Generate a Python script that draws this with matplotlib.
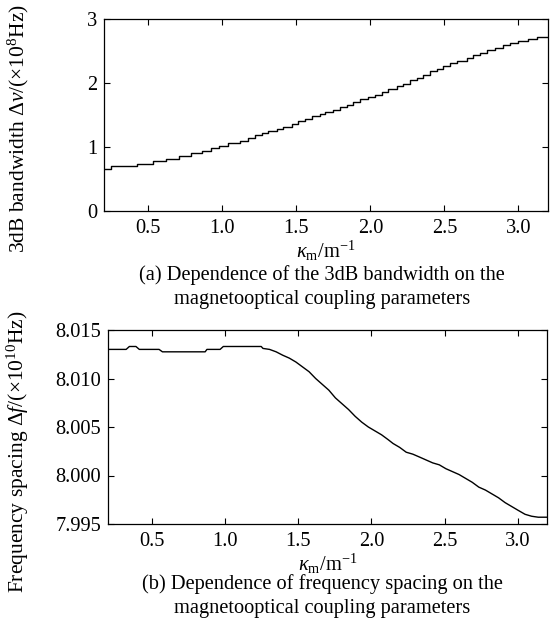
import matplotlib
matplotlib.use("Agg")
import matplotlib.pyplot as plt
from matplotlib.ticker import FormatStrFormatter

plt.rcParams['font.family'] = ['Liberation Serif', 'DejaVu Serif']
plt.rcParams['mathtext.fontset'] = 'custom'
plt.rcParams['mathtext.rm'] = 'Liberation Serif'
plt.rcParams['mathtext.it'] = 'Liberation Serif:italic'
plt.rcParams['mathtext.bf'] = 'Liberation Serif:bold'

# (a) 3dB bandwidth vs kappa_m
k_a = [0.20, 0.25, 0.42, 0.53, 0.62, 0.71, 0.79, 0.86, 0.92, 0.98,
       1.04, 1.12, 1.175, 1.22, 1.265, 1.31, 1.367, 1.412, 1.468, 1.513,
       1.558, 1.603, 1.66, 1.693, 1.75, 1.795, 1.84, 1.885, 1.93, 1.986,
       2.031, 2.076, 2.121, 2.177, 2.222, 2.267, 2.312, 2.357, 2.402, 2.447,
       2.492, 2.537, 2.582, 2.65, 2.695, 2.74, 2.785, 2.842, 2.898, 2.943,
       3.0, 3.067, 3.124, 3.2]
bw_a = [0.65, 0.70, 0.74, 0.78, 0.82, 0.86, 0.90, 0.94, 0.98, 1.02,
        1.06, 1.10, 1.14, 1.18, 1.22, 1.25, 1.28, 1.32, 1.36, 1.40,
        1.44, 1.48, 1.51, 1.55, 1.58, 1.63, 1.66, 1.71, 1.75, 1.78,
        1.82, 1.86, 1.90, 1.95, 1.99, 2.05, 2.08, 2.13, 2.18, 2.22,
        2.26, 2.31, 2.35, 2.39, 2.43, 2.47, 2.51, 2.55, 2.59, 2.63,
        2.65, 2.68, 2.72, 2.72]

# (b) frequency spacing vs kappa_m
k_b = [0.20, 0.324, 0.346, 0.391, 0.414, 0.549, 0.572, 0.864, 0.876, 0.966,
       0.988, 1.247, 1.259, 1.304, 1.349, 1.394, 1.439, 1.484, 1.529, 1.574,
       1.619, 1.664, 1.709, 1.754, 1.799, 1.844, 1.889, 1.934, 1.979, 2.024,
       2.069, 2.114, 2.148, 2.193, 2.238, 2.283, 2.329, 2.374, 2.419, 2.464,
       2.509, 2.554, 2.599, 2.644, 2.689, 2.734, 2.779, 2.824, 2.869, 2.914,
       2.959, 3.004, 3.05, 3.095, 3.14, 3.2]
fs_b = [8.0130, 8.0130, 8.0133, 8.0133, 8.0130, 8.0130, 8.01275, 8.01275, 8.0130, 8.0130,
        8.0133, 8.0133, 8.0131, 8.0130, 8.01275, 8.0124, 8.0121, 8.0117, 8.0112, 8.0107,
        8.0100, 8.0094, 8.0088, 8.0080, 8.0074, 8.0068, 8.0061, 8.0055, 8.0050, 8.0046,
        8.0042, 8.0037, 8.0033, 8.0029, 8.0024, 8.0022, 8.0019, 8.0016, 8.0013, 8.0011,
        8.0007, 8.0004, 8.0001, 7.9997, 7.9993, 7.9988, 7.9985, 7.9981, 7.9977, 7.9972,
        7.9968, 7.9964, 7.9960, 7.9958, 7.9957, 7.9957]

xticks = [0.5, 1.0, 1.5, 2.0, 2.5, 3.0]
yticks_a = [0, 1, 2, 3]
yticks_b = [7.995, 8.000, 8.005, 8.010, 8.015]

W, H = 556, 632
fig = plt.figure(figsize=(W / 100, H / 100), dpi=100)

def box(l, t, r, b):
    return [l / W, 1 - b / H, (r - l) / W, (b - t) / H]

ax1 = fig.add_axes(box(104, 19, 548, 211))
ax2 = fig.add_axes(box(108, 330, 547, 524))

ax1.plot(k_a, bw_a, color='black', lw=1.0, drawstyle='steps-post')
ax2.plot(k_b, fs_b, color='black', lw=1.0)

FS = 14.7
for ax in (ax1, ax2):
    ax.set_xlim(0.2, 3.2)
    ax.set_xticks(xticks)
    ax.xaxis.set_major_formatter(FormatStrFormatter('%.1f'))
    ax.tick_params(direction='in', top=True, right=True, length=4, width=0.8,
                   labelsize=FS, pad=5)
    ax.tick_params(axis='x', pad=6)
    for s in ax.spines.values():
        s.set_linewidth(0.9)
    ax.set_xlabel(r'$\kappa_{\mathrm{m}}$/m$^{-1}$', fontsize=FS, labelpad=0)

ax1.set_ylim(0, 3)
ax1.set_yticks(yticks_a)
ax2.set_ylim(7.995, 8.015)
ax2.set_yticks(yticks_b)
ax2.yaxis.set_major_formatter(FormatStrFormatter('%.3f'))

fig.text(18 / W, 1 - 128 / H, r'3dB bandwidth $\Delta\mathit{v}$/(×10$^{8}$Hz)',
         rotation=90, ha='center', va='center', fontsize=15.5)
fig.text(18 / W, 1 - 452 / H, r'Frequency spacing $\Delta\mathit{f}$/(×10$^{10}$Hz)',
         rotation=90, ha='center', va='center', fontsize=15.5)

fig.text(322 / W, 1 - 287 / H,
         '(a) Dependence of the 3dB bandwidth on the\nmagnetooptical coupling parameters',
         ha='center', va='center', fontsize=FS, linespacing=1.35)
fig.text(322 / W, 1 - 596 / H,
         '(b) Dependence of frequency spacing on the\nmagnetooptical coupling parameters',
         ha='center', va='center', fontsize=FS, linespacing=1.35)

fig.savefig('out.png', dpi=100)
